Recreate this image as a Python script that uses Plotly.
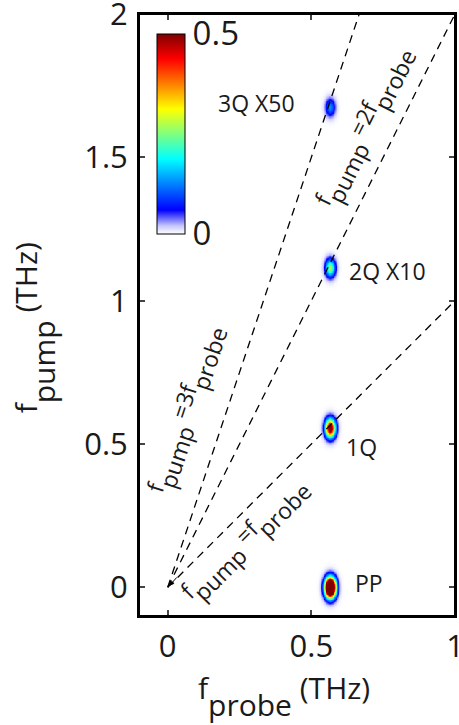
import numpy as np
import plotly.graph_objects as go

# Peak data
peak_names = ["PP", "1Q", "2Q X10", "3Q X50"]
peak_x = [0.565, 0.565, 0.565, 0.565]
peak_y = [0.0, 0.556, 1.115, 1.675]
peak_amp = [1.0, 0.56, 0.27, 0.13]
peak_sx = [0.0125, 0.012, 0.0115, 0.0115]
peak_sy = [0.023, 0.022, 0.021, 0.021]

# Guide lines f_pump = n * f_probe
line_n = [1, 2, 3]

x_ticks = [0, 0.5, 1]
x_ticktext = ["0", "0.5", "1"]
y_ticks = [0, 0.5, 1, 1.5, 2]
y_ticktext = ["0", "0.5", "1", "1.5", "2"]
cbar_ticks = [0, 0.5]
cbar_ticktext = ["0", "0.5"]

xg = np.linspace(-0.1, 1.0, 441)
yg = np.linspace(-0.1, 2.0, 841)
X, Y = np.meshgrid(xg, yg)
Z = np.zeros_like(X)
for px, py, a, sx, sy in zip(peak_x, peak_y, peak_amp, peak_sx, peak_sy):
    Z += a * np.exp(-((X - px) ** 2 / (2 * sx ** 2) + (Y - py) ** 2 / (2 * sy ** 2)))
Z = np.minimum(Z, 0.5)

cscale = [
    [0.0, "rgb(255,255,255)"],
    [0.04, "rgb(200,200,255)"],
    [0.12, "rgb(0,0,255)"],
    [0.375, "rgb(0,255,255)"],
    [0.625, "rgb(255,255,0)"],
    [0.875, "rgb(255,0,0)"],
    [1.0, "rgb(128,0,0)"],
]

FONT = "Open Sans"
TXT = "#1a1a1a"

fig = go.Figure()
fig.add_trace(go.Heatmap(
    x=xg, y=yg, z=Z, zmin=0, zmax=0.5, zsmooth="best",
    colorscale=cscale,
    colorbar=dict(
        x=0.057, xanchor="left", y=0.967, yanchor="top",
        lenmode="pixels", len=200, thickness=28,
        tickvals=cbar_ticks, ticktext=cbar_ticktext,
        ticks="", outlinecolor="black", outlinewidth=1,
        tickfont=dict(size=33, family=FONT, color=TXT),
        ypad=0, xpad=0,
    ),
    hoverinfo="skip",
))

for n in line_n:
    xe = min(1.0, 2.0 / n)
    fig.add_trace(go.Scatter(
        x=[0.0, xe], y=[0.0, n * xe], mode="lines",
        line=dict(color="black", width=1.3, dash="8px,6px"),
        showlegend=False, hoverinfo="skip",
    ))

lab_x = [0.70, 0.675, 0.766, 0.31]
lab_y = [0.014, 0.49, 1.105, 1.69]
for t, x, y in zip(peak_names, lab_x, lab_y):
    fig.add_annotation(x=x, y=y, text=t, showarrow=False,
                       xanchor="center", yanchor="middle",
                       font=dict(size=23, family=FONT, color=TXT))


def sub(s, shift):
    return f'<span style="baseline-shift:-{shift}px">{s}</span>'


guide_text = [
    "f" + sub("pump", 11) + " =f" + sub("probe", 11),
    "f" + sub("pump", 11) + " =2f" + sub("probe", 11),
    "f" + sub("pump", 11) + " =3f" + sub("probe", 11),
]
guide_x = [0.27, 0.685, 0.066]
guide_y = [0.165, 1.605, 0.62]
guide_ang = [-45, -63.4, -71.6]
for t, x, y, a in zip(guide_text, guide_x, guide_y, guide_ang):
    fig.add_annotation(x=x, y=y, text=t, textangle=a, showarrow=False,
                       xanchor="center", yanchor="middle",
                       font=dict(size=23, family=FONT, color=TXT))

fig.add_annotation(x=0.005, y=0.005, ax=9, ay=-10, text="", showarrow=True,
                   arrowhead=2, arrowsize=1, arrowwidth=1, arrowcolor="black")

# axis titles
fig.add_annotation(xref="paper", yref="paper", x=0.459, y=-0.1329,
                   xanchor="center", yanchor="middle",
                   text="f" + sub("probe", 17) + " (THz)", showarrow=False,
                   font=dict(size=30, family=FONT, color=TXT))
fig.add_annotation(xref="paper", yref="paper", x=-0.332, y=0.478, textangle=-90,
                   xanchor="center", yanchor="middle",
                   text="f" + sub("pump", 18) + " (THz)", showarrow=False,
                   font=dict(size=30, family=FONT, color=TXT))

axis_common = dict(
    showgrid=False, zeroline=False, ticks="inside", ticklen=6, tickwidth=1.5,
    showline=True, linecolor="black", linewidth=2, mirror="ticks",
    ticklabeloverflow="allow", automargin=False,
    tickfont=dict(size=31, family=FONT, color=TXT),
)
fig.update_layout(
    xaxis=dict(range=[-0.1, 1.0], tickvals=x_ticks, ticktext=x_ticktext,
               ticklabelstandoff=2, **axis_common),
    yaxis=dict(range=[-0.1, 2.0], tickvals=y_ticks, ticktext=y_ticktext,
               ticklabelstandoff=3, **axis_common),
)

# plot frame
fig.add_shape(type="rect", xref="paper", yref="paper", x0=0, y0=0, x1=1, y1=1,
              line=dict(color="black", width=2), layer="above")

fig.update_layout(
    width=459, height=725,
    margin=dict(l=139, r=4, t=14, b=109, autoexpand=False),
    paper_bgcolor="white", plot_bgcolor="white",
    showlegend=False,
)
fig.write_html("out.html")
